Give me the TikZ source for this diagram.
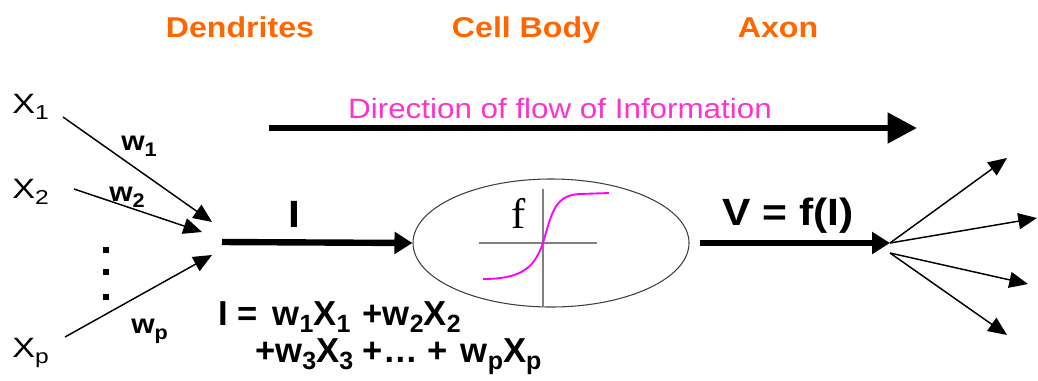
\documentclass[tikz,border=0pt]{standalone}
\usepackage{graphicx}
\usepackage{fontspec}
\setmainfont{Liberation Sans}
\newfontfamily\seriffont{Liberation Serif}
\usetikzlibrary{arrows.meta,shapes.geometric}
\definecolor{orangelbl}{RGB}{255,102,0}
\definecolor{flowpink}{RGB}{255,51,204}
\definecolor{sigmag}{RGB}{255,0,255}
\newcommand{\hs}[1]{\scalebox{1.12}[1]{#1}}
\newcommand{\hsx}[1]{\scalebox{1.22}[1]{#1}}
\newcommand{\hsw}[1]{\scalebox{1.1}[1]{#1}}
\newcommand{\sbs}[1]{\raisebox{-0.22em}{\scalebox{0.72}{#1}}}
\begin{document}
\begin{tikzpicture}[x=0.75pt,y=-0.75pt,
  toplbl/.style={font=\fontsize{21.5}{24}\selectfont\bfseries, text=orangelbl, anchor=base, inner sep=0pt},
  flowlbl/.style={font=\fontsize{21}{24}\selectfont, text=flowpink, anchor=base, inner sep=0pt},
  xlbl/.style={font=\fontsize{21}{24}\selectfont, anchor=base west, inner sep=0pt},
  wlbl/.style={font=\fontsize{20.5}{22}\selectfont\bfseries, anchor=base west, inner sep=0pt},
  biglbl/.style={font=\fontsize{28.5}{32}\selectfont\bfseries, anchor=base, inner sep=0pt},
  eqlbl/.style={font=\fontsize{26}{27.75}\selectfont\bfseries, anchor=base west, inner sep=0pt, align=left},
  thinarrow/.style={line width=1.1pt, -{Triangle[length=14pt,width=12pt]}},
  midarrow/.style={line width=4.8pt, -{Triangle[length=13.5pt,width=16pt]}},
  bigarrow/.style={line width=4.8pt, -{Triangle[length=22pt,width=22pt]}},
  axisline/.style={draw=black!50, line width=1pt},
  dotsq/.style={fill=black, minimum size=3.8pt, inner sep=0pt, draw=none}
]
\useasboundingbox (0,0) rectangle (1038,380);

% top labels
\node[toplbl] (dend) at (240,37) {\hs{Dendrites}};
\node[toplbl] (cell) at (526,37) {\hs{Cell Body}};
\node[toplbl] (axon) at (778,37) {\hs{Axon}};

% direction of flow
\node[flowlbl] (flow) at (560,118) {\hs{Direction of flow of Information}};
\coordinate (fs) at (269,128);
\coordinate (fe) at (917,128);
\draw[bigarrow] (fs) -- (fe);

% inputs
\node[xlbl] (x1) at (12,113) {\hsx{X\sbs{1}}};
\node[xlbl] (x2) at (12,198) {\hsx{X\sbs{2}}};
\node[xlbl] (xp) at (12,357) {\hsx{X\sbs{p}}};
\coordinate (x1s) at (63,117);
\coordinate (x1e) at (212,222);
\coordinate (x2s) at (74,189);
\coordinate (x2e) at (202,232);
\coordinate (xps) at (65,337);
\coordinate (xpe) at (212,255);
\draw[thinarrow] (x1s) -- (x1e);
\draw[thinarrow] (x2s) -- (x2e);
\draw[thinarrow] (xps) -- (xpe);
\node[wlbl] (w1) at (121,150) {\hsw{w\sbs{1}}};
\node[wlbl] (w2) at (109,201) {\hsw{w\sbs{2}}};
\node[wlbl] (wp) at (131,333) {\hsw{w\sbs{p}}};
\node[dotsq] (d1) at (106,250) {};
\node[dotsq] (d2) at (106,272) {};
\node[dotsq] (d3) at (106,297) {};

% cell body
\node[ellipse, draw=black!75, line width=0.8pt, minimum width=207pt, minimum height=96pt, inner sep=0pt] (cb) at (551,243) {};
\coordinate (is) at (222,242);
\draw[midarrow] (is) -- (cb.west);
\node[biglbl] (ilbl) at (294.5,227) {\hs{I}};
\draw[axisline] (543,189) -- (543,307);
\draw[axisline] (479,243) -- (597,243);
\node[font=\seriffont\fontsize{32}{34}\selectfont, anchor=base, inner sep=0pt] (flbl) at (519,228) {f};
\draw[sigmag, line width=1.4pt] (483,279) .. controls (525,279) and (535,265) .. (543,243)
  .. controls (552,212) and (555,195) .. (580,194) -- (609,193);

% equation (base anchor is the last line's baseline)
\node[eqlbl] (eq) at (218,362) {I =\hspace{0.15em} w\sbs{1}X\sbs{1}\hspace{0.35em}+w\sbs{2}X\sbs{2}\\
\hspace*{27.75pt}+w\sbs{3}X\sbs{3} +… + \hspace{0.1em}w\sbs{p}X\sbs{p}};

% axon
\coordinate (fan) at (890,243);
\coordinate (fanb) at (890,253);
\draw[midarrow, shorten <=7.5pt] (cb.east) -- (fan);
\node[biglbl] (vlbl) at (788,225) {\hs{V = f(I)}};
\coordinate (o1) at (1007,158);
\coordinate (o2) at (1037,218);
\coordinate (o3) at (1028,284);
\coordinate (o4) at (1007,335);
\draw[thinarrow] (fan) -- (o1);
\draw[thinarrow] (fan) -- (o2);
\draw[thinarrow] (fanb) -- (o3);
\draw[thinarrow] (fanb) -- (o4);
\end{tikzpicture}
\end{document}
